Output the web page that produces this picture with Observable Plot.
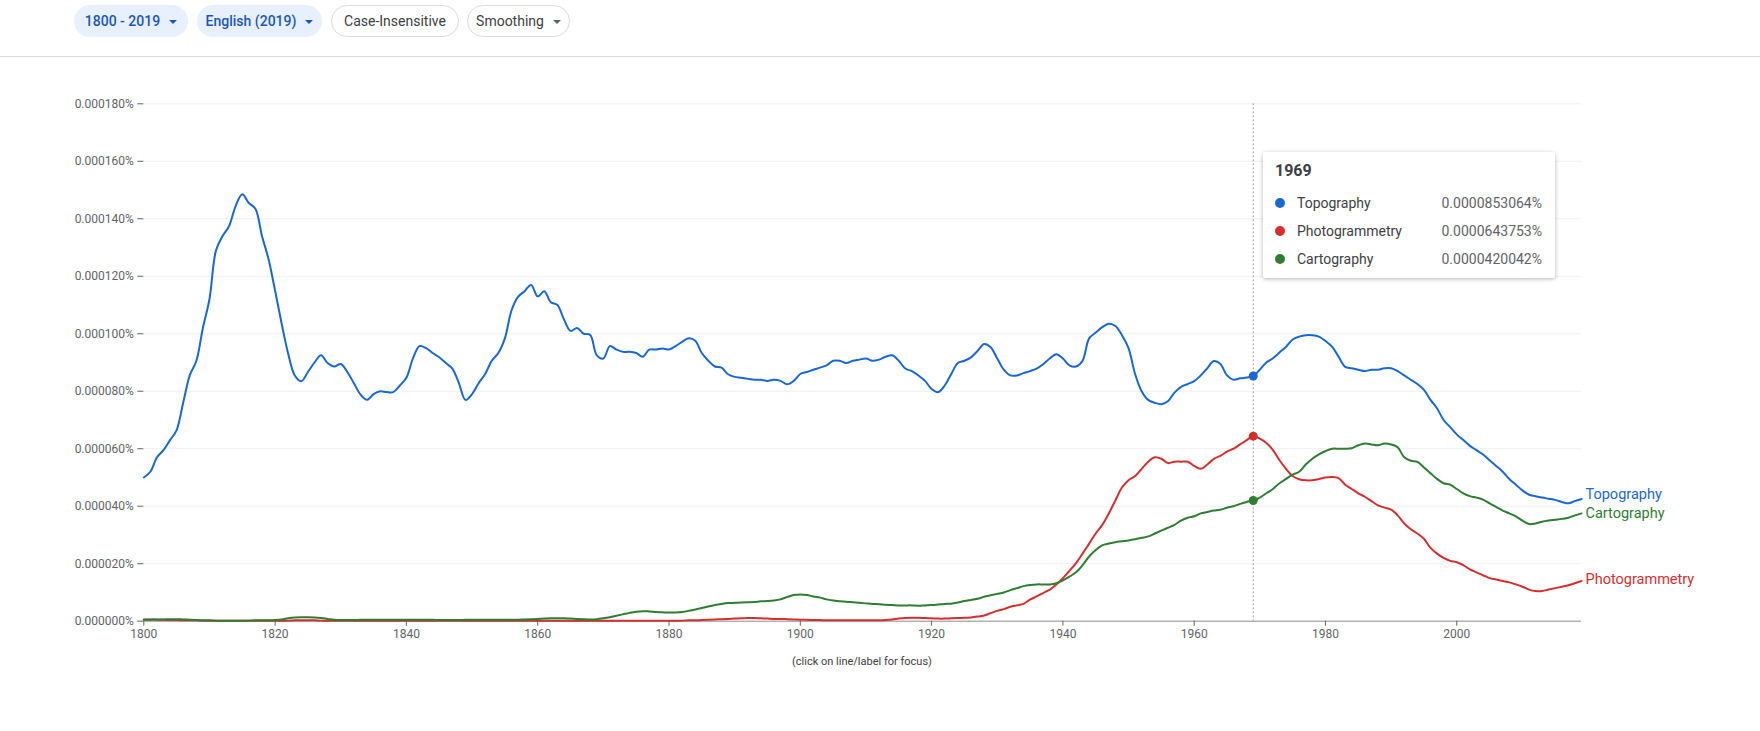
<!DOCTYPE html>
<html>
<head>
<meta charset="utf-8">
<script src="https://cdn.jsdelivr.net/npm/d3@7"></script>
<script src="https://cdn.jsdelivr.net/npm/@observablehq/plot@0.6"></script>
<style>
html, body { margin: 0; padding: 0; background: #fff; }
body { width: 1760px; height: 731px; position: relative; overflow: hidden; font-family: Roboto, "Noto Sans", sans-serif; }
#header { position: absolute; left: 0; top: 0; width: 1760px; height: 56px; border-bottom: 1px solid #dadce0; }
.chip { position: absolute; top: 5px; height: 32px; box-sizing: border-box; border-radius: 16px; display: flex; align-items: center; justify-content: center; gap: 9px; font-size: 14px; white-space: nowrap; }
.chip.sel { background: #e8f0fe; color: #1a57b4; font-weight: 500; }
.chip.out { background: #fff; border: 1px solid #dadce0; color: #3c4043; }
.caret { width: 0; height: 0; border-left: 4px solid transparent; border-right: 4px solid transparent; border-top: 4px solid currentColor; margin-top: 1px; }
.chip.out .caret { border-top-color: #5f6368; }
#chart { position: absolute; left: 0; top: 57px; }
#caption { position: absolute; top: 654px; left: 0; width: 1724px; text-align: center; font-size: 11px; line-height: 16px; color: #3c4043; }
#tip { position: absolute; left: 1263px; top: 152px; width: 292px; height: 126px; background: #fff; box-shadow: 0 1px 4px rgba(0,0,0,0.3); border-radius: 2px; }
#tip .title { position: absolute; left: 12px; top: 9px; font-size: 16px; line-height: 20px; font-weight: 700; color: #3c4043; }
#tip .row { position: absolute; left: 0; width: 292px; height: 20px; line-height: 20px; font-size: 14px; }
#tip .dot { position: absolute; left: 12px; top: 5px; width: 10px; height: 10px; border-radius: 50%; }
#tip .name { position: absolute; left: 34px; top: 0; color: #3c4043; }
#tip .val { position: absolute; right: 13px; top: 0; color: #5f6368; }
</style>
</head>
<body>
<div id="header"></div>
<div id="chart"></div>
<div id="caption">(click on line/label for focus)</div>
<div id="tip"></div>
<script>
// ---- data (values in units of 0.000001 %) ----
const years = d3.range(1800, 2020);
const terms = ["Topography", "Photogrammetry", "Cartography"];
const termColors = ["#1967d2", "#d32f2f", "#2e7d32"];

const topography = [
  50, 52, 57, 59.5, 63, 66.5, 76, 85.5, 90.5, 102,
  112, 129, 134, 137.5, 144.5, 148.5, 145.5, 143.5, 134, 126,
  115, 103.5, 93, 85.5, 83.5, 86.7, 90, 92.5, 89.8, 88.6,
  89.5, 86.7, 82.8, 78.9, 77, 79, 80, 79.7, 79.7, 82,
  84.7, 91.4, 95.7, 95, 93.3, 91.8, 89.8, 87.9, 82.8, 77,
  79, 82.8, 86, 90.6, 93.3, 98.4, 108, 112.8, 114.8, 117,
  113, 114.8, 111, 110, 105, 101, 102, 100, 99.6, 92.5,
  91.4, 95.7, 94.5, 93.7, 93.7, 93.3, 92, 94.5, 94.5, 94.9,
  94.5, 95.7, 97.2, 98.4, 97.6, 93.3, 90.6, 88.6, 88.2, 85.9,
  85, 84.7, 84.3, 84, 84, 83.6, 84, 83.6, 82.4, 83.6,
  86, 86.7, 87.5, 88.2, 89, 90.6, 90.6, 89.8, 90.6, 91,
  91.4, 90.6, 91, 92, 92.5, 90.6, 87.9, 87, 85.5, 83.6,
  80.8, 79.7, 82, 86, 89.8, 90.6, 91.8, 94, 96.4, 95.3,
  91.4, 87.5, 85.5, 85.5, 86.3, 87, 87.9, 89.4, 91.4, 92.9,
  91.4, 89, 88.6, 90.6, 98.4, 100.4, 102.3, 103.5, 102.7, 99.5,
  95, 86, 80, 77, 76, 75.5, 76.5, 79.5, 81.5, 82.5,
  83.5, 85.5, 88, 90.5, 89.5, 85.5, 84, 84.5, 84.8, 85.3064,
  87.5, 90, 91.5, 93.5, 95.5, 98, 99, 99.5, 99.5, 99,
  97.5, 95.5, 92, 88.5, 88, 87.5, 87, 87.5, 87.5, 88,
  88, 87, 85.5, 84, 82.5, 80.5, 77, 74, 70, 67.5,
  65, 63, 61, 59.5, 58, 56, 54, 52, 49.5, 47.5,
  45.5, 44, 43.5, 43, 42.6, 42.2, 41.5, 41, 41.8, 42.5
];

const photogrammetry = [
  0.6, 0.6, 0.5, 0.5, 0.4, 0.4, 0.3, 0.3, 0.3, 0.2,
  0.2, 0.2, 0.2, 0.2, 0.2, 0.2, 0.2, 0.2, 0.2, 0.2,
  0.2, 0.2, 0.2, 0.3, 0.3, 0.3, 0.3, 0.2, 0.2, 0.2,
  0.2, 0.2, 0.2, 0.2, 0.2, 0.2, 0.2, 0.2, 0.2, 0.2,
  0.2, 0.2, 0.2, 0.2, 0.2, 0.2, 0.2, 0.2, 0.2, 0.2,
  0.2, 0.2, 0.2, 0.2, 0.2, 0.2, 0.2, 0.2, 0.2, 0.2,
  0.2, 0.2, 0.2, 0.2, 0.2, 0.2, 0.2, 0.2, 0.2, 0.2,
  0.2, 0.2, 0.2, 0.2, 0.2, 0.2, 0.2, 0.2, 0.2, 0.2,
  0.2, 0.2, 0.2, 0.3, 0.3, 0.4, 0.5, 0.6, 0.7, 0.8,
  0.9, 1.0, 1.1, 1.1, 1.0, 0.9, 0.8, 0.8, 0.7, 0.6,
  0.5, 0.5, 0.4, 0.4, 0.3, 0.3, 0.3, 0.3, 0.3, 0.3,
  0.3, 0.3, 0.3, 0.4, 0.6, 0.9, 1.1, 1.2, 1.2, 1.1,
  1.0, 0.9, 0.9, 1.0, 1.1, 1.2, 1.3, 1.6, 2.0, 2.8,
  3.6, 4.2, 5.0, 5.5, 6.0, 7.5, 8.6, 9.8, 11, 12.8,
  15, 17.5, 20.2, 23.5, 27, 30.5, 33.5, 37.5, 42, 46.5,
  49, 50.5, 53, 55.5, 57, 56.5, 55, 55.5, 55.5, 55.5,
  54, 53, 54.5, 56.5, 57.5, 59, 60, 61.5, 63, 64.3753,
  63.5, 62, 59.5, 56, 53, 50.5, 49.4, 49, 49, 49.5,
  50, 50.2, 49.8, 47.5, 46, 44.5, 43.3, 41.8, 40.3, 39.5,
  38.8, 36.8, 34, 32, 30.5, 28.7, 25.5, 23.5, 22, 21,
  20.5, 19.5, 18, 17, 16, 15, 14.5, 14, 13.5, 12.8,
  12, 11, 10.5, 10.5, 11, 11.5, 12, 12.5, 13.2, 14
];

const cartography = [
  0.5, 0.5, 0.6, 0.6, 0.7, 0.7, 0.6, 0.5, 0.4, 0.3,
  0.3, 0.2, 0.2, 0.2, 0.2, 0.2, 0.2, 0.3, 0.3, 0.3,
  0.4, 0.6, 1.0, 1.3, 1.4, 1.4, 1.3, 1.1, 0.8, 0.5,
  0.4, 0.4, 0.4, 0.5, 0.5, 0.5, 0.5, 0.5, 0.5, 0.5,
  0.5, 0.5, 0.5, 0.5, 0.5, 0.4, 0.4, 0.4, 0.4, 0.5,
  0.5, 0.5, 0.5, 0.5, 0.5, 0.5, 0.5, 0.5, 0.6, 0.7,
  0.8, 0.9, 1.0, 1.0, 1.0, 0.9, 0.8, 0.7, 0.6, 0.7,
  1.0, 1.4, 1.9, 2.4, 2.9, 3.3, 3.5, 3.4, 3.2, 3.1,
  3.0, 3.0, 3.2, 3.6, 4.1, 4.6, 5.1, 5.6, 6.0, 6.3,
  6.4, 6.5, 6.6, 6.7, 6.9, 7.0, 7.2, 7.6, 8.4, 9.1,
  9.3, 9.1, 8.6, 8.2, 7.6, 7.2, 6.9, 6.8, 6.6, 6.4,
  6.2, 6.0, 5.9, 5.7, 5.6, 5.5, 5.5, 5.5, 5.4, 5.5,
  5.6, 5.8, 6.0, 6.1, 6.5, 7.0, 7.4, 7.8, 8.5, 9.0,
  9.5, 10.0, 10.8, 11.5, 12.2, 12.6, 12.8, 12.8, 12.8, 13.2,
  14.2, 15.5, 17, 19.5, 22.5, 24.8, 26.4, 27, 27.5, 27.8,
  28.1, 28.5, 29, 29.5, 30.5, 31.5, 32.5, 33.5, 35, 36,
  36.5, 37.5, 38, 38.5, 38.8, 39.5, 40, 40.8, 41.5, 42.0042,
  43, 44.5, 46, 48, 49.5, 51, 52, 54.5, 56.5, 58,
  59.2, 60, 60, 60, 60.2, 61.2, 61.8, 61.5, 61.2, 61.8,
  61.5, 60.5, 57, 55.8, 55.4, 53.5, 51.5, 49.5, 48, 47.5,
  46, 44.5, 43.5, 43, 42.3, 41, 39.8, 38.5, 37.5, 36.5,
  35, 33.8, 34, 34.6, 35, 35.3, 35.6, 36, 36.8, 37.5
];

const focusYear = 1969;
const xTicks = [1800, 1820, 1840, 1860, 1880, 1900, 1920, 1940, 1960, 1980, 2000];
const yTicks = [0, 20, 40, 60, 80, 100, 120, 140, 160, 180];
const labelNudge = [-4.5, -2, -0.5];
const chips = [
  {label: "1800 - 2019", kind: "sel", caret: true},
  {label: "English (2019)", kind: "sel", caret: true},
  {label: "Case-Insensitive", kind: "out", caret: false},
  {label: "Smoothing", kind: "out", caret: true}
];

// ---- build ----
const seriesValues = [topography, photogrammetry, cartography];
const rows = [];
terms.forEach((t, k) => years.forEach((yr, i) => rows.push({year: yr, value: seriesValues[k][i], term: t})));
const fi = years.indexOf(focusYear);
const focusRows = terms.map((t, k) => ({year: focusYear, value: seriesValues[k][fi], term: t}));
const last = years.length - 1;
const endRows = terms.map((t, k) => ({year: years[last], value: seriesValues[k][last], term: t, nudge: labelNudge[k]}));

// header chips
const chipPos = [[74, 114], [197, 125], [331, 128], [467, 103]];
const header = document.getElementById("header");
chips.forEach((c, i) => {
  const d = document.createElement("div");
  d.className = "chip " + c.kind;
  d.style.left = chipPos[i][0] + "px";
  d.style.width = chipPos[i][1] + "px";
  const s = document.createElement("span");
  s.textContent = c.label;
  d.appendChild(s);
  if (c.caret) { const a = document.createElement("span"); a.className = "caret"; d.appendChild(a); }
  header.appendChild(d);
});

const fmtTick = d => (d / 1e6).toFixed(6) + "%";
const plot = Plot.plot({
  width: 1760,
  height: 674,
  marginLeft: 143.3,
  marginRight: 179,
  marginTop: 46.3,
  marginBottom: 110.3,
  style: {fontFamily: "Roboto, 'Noto Sans', sans-serif", color: "#5f6368", background: "transparent"},
  x: {domain: [1800, 2019]},
  y: {domain: [0, 180]},
  color: {domain: terms, range: termColors},
  marks: [
    Plot.ruleY(yTicks.filter(d => d > 0), {stroke: "#efefef"}),
    Plot.ruleY([0], {stroke: "#8c8c8c"}),
    Plot.axisY({ticks: yTicks, tickFormat: fmtTick, fontSize: 12, tickSize: 6, tickPadding: 4, label: null}),
    Plot.axisX({ticks: xTicks, tickFormat: d => String(d), fontSize: 12, tickSize: 5, tickPadding: 3, label: null}),
    Plot.ruleX([focusYear], {stroke: "#9e9e9e", strokeDasharray: "2,2", strokeWidth: 1}),
    Plot.line(rows, {x: "year", y: "value", stroke: "term", strokeWidth: 2, curve: "catmull-rom"}),
    Plot.dot(focusRows, {x: "year", y: "value", fill: "term", r: 4.5}),
    ...endRows.map(r => Plot.text([r], {x: "year", y: "value", text: "term", fill: "term", textAnchor: "start", dx: 4, dy: r.nudge, fontSize: 14.5}))
  ]
});
document.getElementById("chart").appendChild(plot);

// tooltip
const tip = document.getElementById("tip");
const title = document.createElement("div");
title.className = "title";
title.textContent = String(focusYear);
tip.appendChild(title);
const rowTops = [41, 69, 97];
focusRows.forEach((r, k) => {
  const row = document.createElement("div");
  row.className = "row";
  row.style.top = rowTops[k] + "px";
  const dot = document.createElement("span"); dot.className = "dot"; dot.style.background = termColors[k];
  const name = document.createElement("span"); name.className = "name"; name.textContent = r.term;
  const val = document.createElement("span"); val.className = "val"; val.textContent = (r.value / 1e6).toFixed(10) + "%";
  row.appendChild(dot); row.appendChild(name); row.appendChild(val);
  tip.appendChild(row);
});
</script>
</body>
</html>
